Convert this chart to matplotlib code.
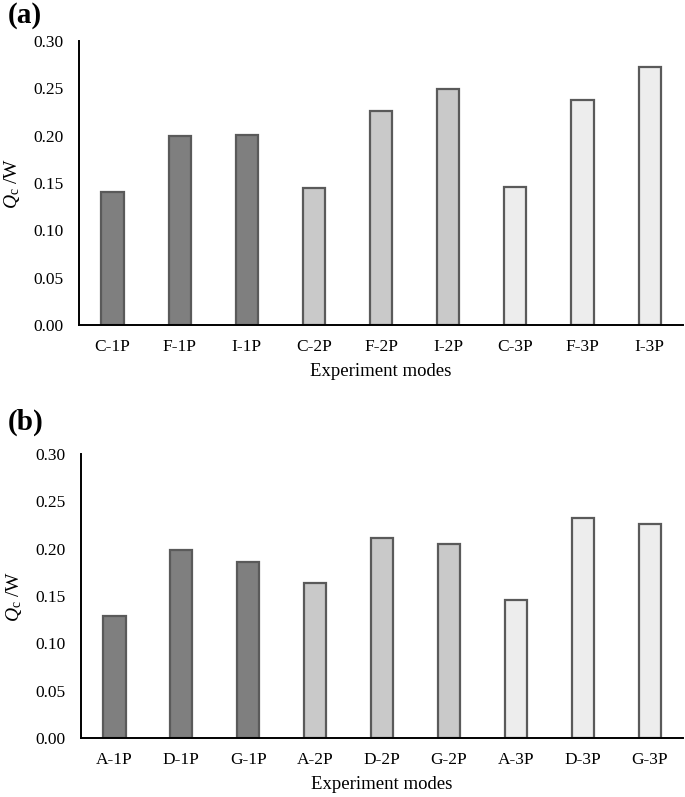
import matplotlib.pyplot as plt

plt.rcParams['font.family'] = 'Liberation Serif'
plt.rcParams['mathtext.fontset'] = 'custom'
plt.rcParams['mathtext.rm'] = 'Liberation Serif'
plt.rcParams['mathtext.it'] = 'Liberation Serif:italic'

# data
modes_a = ["C-1P", "F-1P", "I-1P", "C-2P", "F-2P", "I-2P", "C-3P", "F-3P", "I-3P"]
qc_a = [0.141, 0.200, 0.201, 0.145, 0.226, 0.249, 0.146, 0.238, 0.272]

modes_b = ["A-1P", "D-1P", "G-1P", "A-2P", "D-2P", "G-2P", "A-3P", "D-3P", "G-3P"]
qc_b = [0.129, 0.199, 0.186, 0.164, 0.211, 0.205, 0.146, 0.232, 0.226]

group_colors = ["#7f7f7f"] * 3 + ["#c9c9c9"] * 3 + ["#ededed"] * 3

fig = plt.figure(figsize=(6.85, 7.97), dpi=100)
ax_a = fig.add_axes([0.1153, 0.5922, 0.882, 0.3564])
ax_b = fig.add_axes([0.1183, 0.0740, 0.879, 0.3564])


def draw_panel(ax, modes, vals):
    x = range(len(modes))
    ax.bar(x, vals, width=0.33, color=group_colors, edgecolor="#5a5a5a", linewidth=1.6)
    ax.set_xlim(-0.5, len(modes) - 0.5)
    ax.set_ylim(0, 0.30)
    ax.set_yticks([0, 0.05, 0.10, 0.15, 0.20, 0.25, 0.30])
    ax.set_yticklabels([f"{v:.2f}" for v in ax.get_yticks()])
    ax.set_xticks(list(x))
    ax.set_xticklabels(modes)
    ax.tick_params(length=0, labelsize=12.5)
    ax.tick_params(axis="y", pad=11)
    ax.tick_params(axis="x", pad=10)
    for s in ["top", "right"]:
        ax.spines[s].set_visible(False)
    ax.spines["left"].set_linewidth(1.4)
    ax.spines["bottom"].set_linewidth(1.4)
    ax.set_xlabel("Experiment modes", fontsize=13.5, labelpad=6)
    ax.set_ylabel(r"$Q_{\mathrm{c}}$ /W", fontsize=14, labelpad=8)


draw_panel(ax_a, modes_a, qc_a)
draw_panel(ax_b, modes_b, qc_b)

fig.text(0.011, 0.997, "(a)", fontsize=21, fontweight="bold", va="top", ha="left")
fig.text(0.011, 0.487, "(b)", fontsize=21, fontweight="bold", va="top", ha="left")

fig.savefig("out.png", dpi=100)
